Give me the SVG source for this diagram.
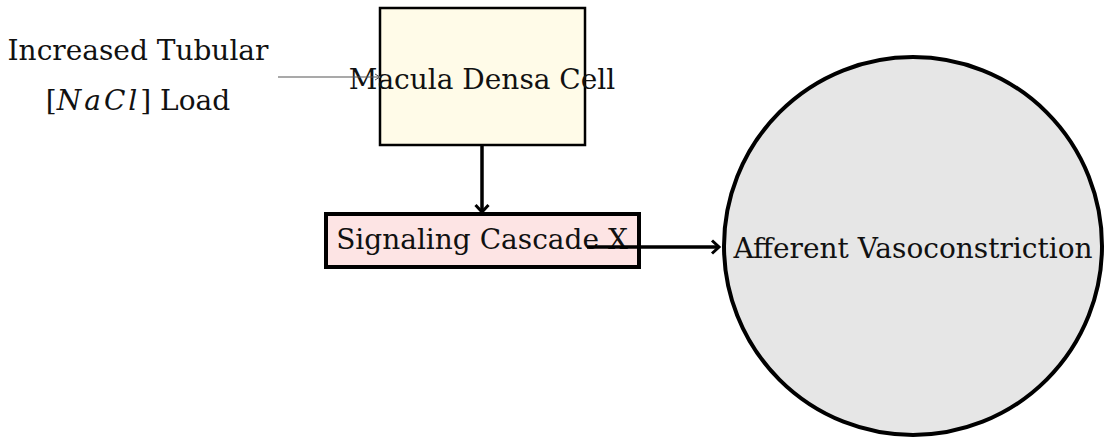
<svg xmlns="http://www.w3.org/2000/svg" width="1104" height="439" viewBox="0 0 1104 439">
<style>
text{font-family:"DejaVu Serif","Liberation Serif",serif;font-size:28px;fill:#111}
</style>
<defs>
<marker id="chev" markerWidth="12" markerHeight="16" refX="9" refY="8" orient="auto" markerUnits="userSpaceOnUse">
<path d="M2,1.5 L9,8 L2,14.5" fill="none" stroke="#000" stroke-width="3"/>
</marker>
<marker id="small" markerWidth="8" markerHeight="8" refX="6" refY="4" orient="auto" markerUnits="userSpaceOnUse">
<path d="M1,1 L6,4 L1,7" fill="none" stroke="#555" stroke-width="1"/>
</marker>
</defs>
<rect width="1104" height="439" fill="#fff"/>
<g id="n-load">
<text x="138" y="60" text-anchor="middle">Increased Tubular</text>
<text x="138" y="110" text-anchor="middle">[<tspan font-style="italic" letter-spacing="3">NaCl</tspan>] Load</text>
</g>
<g id="n-macula">
<rect x="380" y="8" width="205" height="137" fill="#fffbe8" stroke="#000" stroke-width="2.5"/>
<text x="482" y="89" text-anchor="middle">Macula Densa Cell</text>
</g>
<g id="n-cascade">
<rect x="326" y="214" width="313" height="53" fill="#fde4e4" stroke="#000" stroke-width="4"/>
<text x="482" y="249" text-anchor="middle">Signaling Cascade X</text>
</g>
<g id="n-afferent">
<circle cx="913" cy="246" r="189" fill="#e6e6e6" stroke="#000" stroke-width="4"/>
<text x="913" y="258" text-anchor="middle">Afferent Vasoconstriction</text>
</g>
<g id="connectors">
<line x1="278" y1="77" x2="380" y2="77" stroke="#555" stroke-width="1.2" marker-end="url(#small)"/>
<line x1="482" y1="145" x2="482" y2="212" stroke="#000" stroke-width="3.5" marker-end="url(#chev)"/>
<line x1="587" y1="247" x2="719" y2="247" stroke="#000" stroke-width="3.5" marker-end="url(#chev)"/>
</g>
</svg>
